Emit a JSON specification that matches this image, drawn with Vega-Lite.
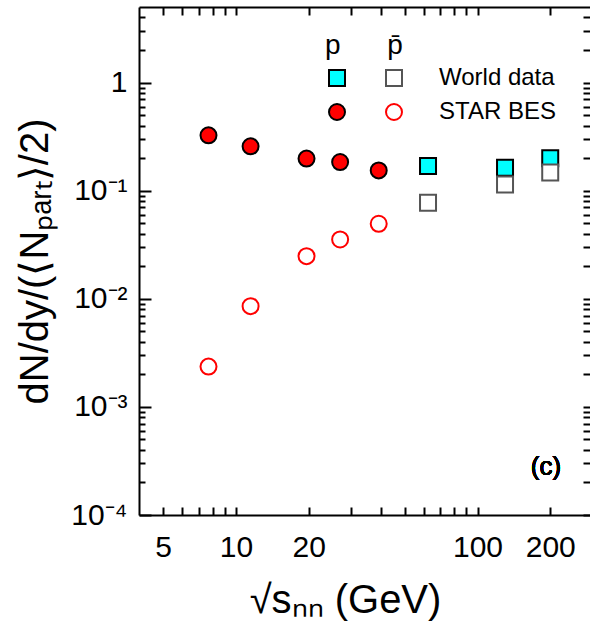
{
  "$schema": "https://vega.github.io/schema/vega-lite/v6.json",
  "width": 452,
  "height": 508,
  "autosize": "none",
  "padding": {"left": 139, "top": 7, "right": 0, "bottom": 117},
  "background": "white",
  "config": {
    "view": {"stroke": null},
    "font": "Liberation Sans",
    "axis": {
      "domainColor": "black", "domainWidth": 2, "tickColor": "black", "tickWidth": 2,
      "labelFont": "Liberation Sans", "labelFontSize": 30, "labelColor": "black",
      "titleFont": "Liberation Sans", "titleFontSize": 40, "titleFontWeight": "normal", "titleColor": "black",
      "grid": false, "labelFlush": false, "labelOverlap": false, "labelBound": false
    },
    "legend": {
      "orient": "none", "legendX": 186, "legendY": 25, "direction": "horizontal",
      "columns": 2, "columnPadding": 0, "rowPadding": 10,
      "labelFont": "Liberation Sans", "labelFontSize": 24, "labelColor": "black", "labelOffset": 33,
      "titleFont": "Liberation Sans", "titleFontSize": 28, "titleFontWeight": "normal", "titleColor": "black", "titlePadding": 6,
      "symbolStrokeWidth": 2, "symbolOpacity": 1
    }
  },
  "data": {
    "values": [
      {"e": 7.7, "v": 0.325, "s": "pS"},
      {"e": 11.5, "v": 0.257, "s": "pS"},
      {"e": 19.6, "v": 0.198, "s": "pS"},
      {"e": 27, "v": 0.184, "s": "pS"},
      {"e": 39, "v": 0.154, "s": "pS"},
      {"e": 7.7, "v": 0.00236, "s": "aS"},
      {"e": 11.5, "v": 0.00855, "s": "aS"},
      {"e": 19.6, "v": 0.0248, "s": "aS"},
      {"e": 27, "v": 0.0354, "s": "aS"},
      {"e": 39, "v": 0.0494, "s": "aS"},
      {"e": 62.4, "v": 0.169, "s": "pW"},
      {"e": 130, "v": 0.163, "s": "pW"},
      {"e": 200, "v": 0.199, "s": "pW"},
      {"e": 62.4, "v": 0.0774, "s": "aW"},
      {"e": 130, "v": 0.114, "s": "aW"},
      {"e": 200, "v": 0.147, "s": "aW"}
    ]
  },
  "layer": [
    {
      "mark": {"type": "point", "opacity": 1, "strokeWidth": 2},
      "encoding": {
        "x": {
          "field": "e", "type": "quantitative",
          "scale": {"type": "log", "domain": [3.97, 295], "nice": false},
          "axis": {
            "orient": "bottom",
            "values": [5, 6, 7, 8, 9, 10, 20, 30, 40, 50, 60, 70, 80, 90, 100, 200],
            "labelExpr": "(datum.value == 5 || datum.value == 10 || datum.value == 20 || datum.value == 100 || datum.value == 200) ? datum.label : ''",
            "tickSize": -8,
            "labelPadding": 25,
            "title": "√sₙₙ (GeV)",
            "titlePadding": 18,
            "titleX": 206
          }
        },
        "y": {
          "field": "v", "type": "quantitative",
          "scale": {"type": "log", "domain": [0.0001, 5], "nice": false},
          "axis": {
            "orient": "left",
            "values": [0.0001, 0.0002, 0.0003, 0.0004, 0.0005, 0.0006, 0.0007, 0.0008, 0.0009, 0.001, 0.002, 0.003, 0.004, 0.005, 0.006, 0.007, 0.008, 0.009, 0.01, 0.02, 0.03, 0.04, 0.05, 0.06, 0.07, 0.08, 0.09, 0.1, 0.2, 0.3, 0.4, 0.5, 0.6, 0.7, 0.8, 0.9, 1, 2, 3, 4],
            "labelExpr": "abs(log(datum.value)/LN10 - round(log(datum.value)/LN10)) < 0.001 ? (round(log(datum.value)/LN10) == 0 ? '1' : round(log(datum.value)/LN10) == -1 ? '10⁻¹' : round(log(datum.value)/LN10) == -2 ? '10⁻²' : round(log(datum.value)/LN10) == -3 ? '10⁻³' : '10⁻⁴') : ''",
            "tickSize": {"condition": {"test": "abs(log(datum.value)/LN10 - round(log(datum.value)/LN10)) < 0.001", "value": -12}, "value": -6},
            "labelPadding": {"condition": {"test": "abs(log(datum.value)/LN10 - round(log(datum.value)/LN10)) < 0.001", "value": 24}, "value": 18},
            "title": "dN/dy/(⟨Nₚₐᵣₜ⟩/2)",
            "titlePadding": 15
          }
        },
        "shape": {
          "field": "s", "type": "nominal",
          "scale": {"domain": ["pW", "aW", "pS", "aS"], "range": ["square", "square", "circle", "circle"]},
          "legend": {
            "title": "p\u00a0\u00a0\u00a0\u00a0\u00a0\u00a0p̄",
            "labelExpr": "datum.value == 'aW' ? 'World data' : datum.value == 'aS' ? 'STAR BES' : ''"
          }
        },
        "fill": {
          "field": "s", "type": "nominal",
          "scale": {"domain": ["pW", "aW", "pS", "aS"], "range": ["#00ffff", "#ffffff", "#ff0000", "transparent"]},
          "legend": {
            "title": "p\u00a0\u00a0\u00a0\u00a0\u00a0\u00a0p̄",
            "labelExpr": "datum.value == 'aW' ? 'World data' : datum.value == 'aS' ? 'STAR BES' : ''"
          }
        },
        "stroke": {
          "field": "s", "type": "nominal",
          "scale": {"domain": ["pW", "aW", "pS", "aS"], "range": ["#000000", "#555555", "#000000", "#ff0000"]},
          "legend": {
            "title": "p\u00a0\u00a0\u00a0\u00a0\u00a0\u00a0p̄",
            "labelExpr": "datum.value == 'aW' ? 'World data' : datum.value == 'aS' ? 'STAR BES' : ''"
          }
        },
        "size": {
          "field": "s", "type": "nominal",
          "scale": {"domain": ["pW", "aW", "pS", "aS"], "range": [256, 256, 420, 420]},
          "legend": {
            "title": "p\u00a0\u00a0\u00a0\u00a0\u00a0\u00a0p̄",
            "labelExpr": "datum.value == 'aW' ? 'World data' : datum.value == 'aS' ? 'STAR BES' : ''"
          }
        }
      }
    },
    {
      "mark": {"type": "point", "opacity": 0},
      "encoding": {
        "x": {
          "field": "e", "type": "quantitative",
          "scale": {"type": "log", "domain": [3.97, 295], "nice": false},
          "axis": {
            "orient": "top", "labels": false, "title": null,
            "values": [5, 6, 7, 8, 9, 10, 20, 30, 40, 50, 60, 70, 80, 90, 100, 200],
            "tickSize": -8
          }
        },
        "y": {
          "field": "v", "type": "quantitative",
          "scale": {"type": "log", "domain": [0.0001, 5], "nice": false},
          "axis": {
            "orient": "right", "labels": false, "title": null,
            "values": [0.0001, 0.0002, 0.0003, 0.0004, 0.0005, 0.0006, 0.0007, 0.0008, 0.0009, 0.001, 0.002, 0.003, 0.004, 0.005, 0.006, 0.007, 0.008, 0.009, 0.01, 0.02, 0.03, 0.04, 0.05, 0.06, 0.07, 0.08, 0.09, 0.1, 0.2, 0.3, 0.4, 0.5, 0.6, 0.7, 0.8, 0.9, 1, 2, 3, 4],
            "tickSize": -8
          }
        }
      }
    },
    {
      "mark": {"type": "text", "text": "(c)", "fontSize": 26, "font": "Liberation Sans", "fill": "black"},
      "encoding": {
        "x": {"datum": 192, "type": "quantitative", "axis": null},
        "y": {"datum": 0.00028, "type": "quantitative", "axis": null}
      }
    }
  ],
  "resolve": {"axis": {"x": "independent", "y": "independent"}}
}
